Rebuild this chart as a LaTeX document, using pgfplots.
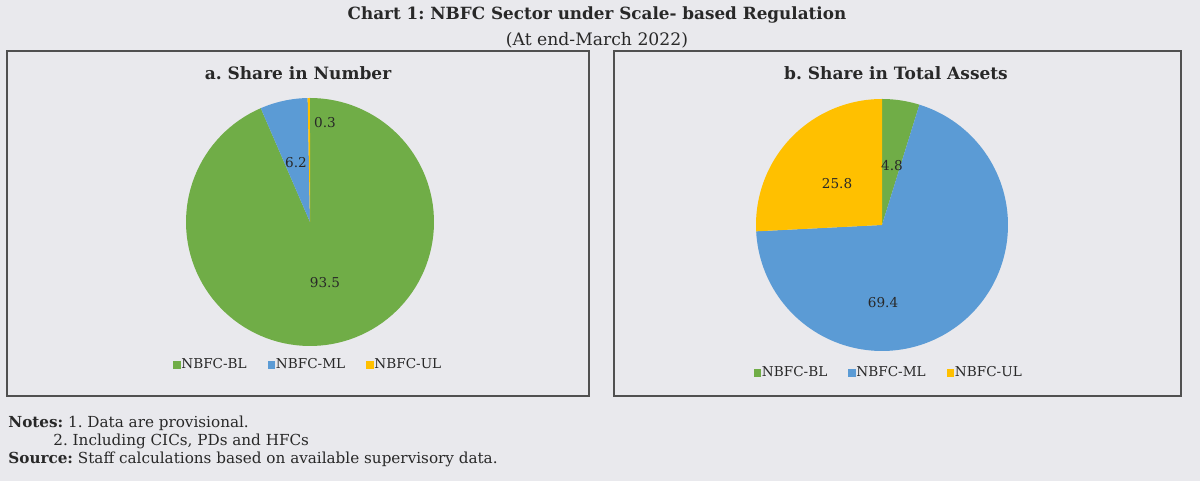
\documentclass[border=0pt]{standalone}
\usepackage{pgfplots}
\pgfplotsset{compat=1.18}
\usepackage{fontspec}
\setmainfont{DejaVu Serif}
\frenchspacing
\definecolor{bg}{RGB}{233,233,237}
\definecolor{bl}{RGB}{112,173,71}
\definecolor{ml}{RGB}{91,155,213}
\definecolor{ul}{RGB}{255,192,0}
\definecolor{frame}{RGB}{80,80,80}
\definecolor{txt}{RGB}{40,40,40}
% shares (per cent)
\def\aBL{93.5}\def\aML{6.2}\def\aUL{0.3}
\def\bBL{4.8}\def\bML{69.4}\def\bUL{25.8}
\tikzset{lbl/.style={font=\fontsize{6.8}{8}\selectfont, text=txt}}
\pgfplotsset{
  piestyle/.style={
    scale only axis, hide axis, axis equal image,
    xmin=-1,xmax=1,ymin=-1,ymax=1,
    clip=false,
    legend columns=3,
    legend style={draw=none, fill=none, font=\fontsize{6.8}{8}\selectfont\color{txt},
      inner sep=0pt, nodes={inner sep=0.4pt},
      /tikz/every even column/.append style={column sep=10pt}},
    legend image code/.code={\fill[##1] (0pt,-1.9pt) rectangle (3.8pt,1.9pt);},
    every axis plot/.append style={draw=none, samples=120, variable=\t},
  },
}
\begin{document}
\begin{tikzpicture}[x=0.5pt,y=0.5pt]
\fill[bg] (0,0) rectangle (1200,481);
\coordinate (ca) at (310,259);
\coordinate (cb) at (882,256);
% boxes (y measured upward: ytikz = 481 - ypx)
\draw[frame, line width=1pt] (7,430) rectangle (589,85);
\draw[frame, line width=1pt] (614,430) rectangle (1181,85);
\node[font=\fontsize{8.4}{10}\selectfont\bfseries, text=txt] at (597,466) {Chart 1: NBFC Sector under Scale- based Regulation};
\node[font=\fontsize{8.6}{10}\selectfont, text=txt] at (597,441) {(At end-March 2022)};
\node[font=\fontsize{8.5}{10}\selectfont\bfseries, text=txt] at (298,408) {a. Share in Number};
\node[font=\fontsize{8.5}{10}\selectfont\bfseries, text=txt] at (896,408) {b. Share in Total Assets};
\node[font=\fontsize{7.6}{9}\selectfont, text=txt, anchor=west, inner sep=0pt] at (8,58) {\textbf{Notes:} 1. Data are provisional.};
\node[font=\fontsize{7.6}{9}\selectfont, text=txt, anchor=west, inner sep=0pt] at (53,40) {2. Including CICs, PDs and HFCs};
\node[font=\fontsize{7.6}{9}\selectfont, text=txt, anchor=west, inner sep=0pt] at (8,22) {\textbf{Source:} Staff calculations based on available supervisory data.};

% chart a
\begin{axis}[piestyle, at={(ca)}, anchor=center, width=124pt, height=124pt,
  legend style={at={(axis cs:-0.02,-1.153)}, anchor=center}]
\addplot[fill=bl, domain={90}:{90-3.6*\aBL}] ({cos(\t)},{sin(\t)}) -- (axis cs:0,0) -- cycle;
\addplot[fill=ml, domain={90-3.6*\aBL}:{90-3.6*(\aBL+\aML)}] ({cos(\t)},{sin(\t)}) -- (axis cs:0,0) -- cycle;
\addplot[fill=ul, domain={90-3.6*(\aBL+\aML)}:{-270}] ({cos(\t)},{sin(\t)}) -- (axis cs:0,0) -- cycle;
\legend{NBFC-BL,NBFC-ML,NBFC-UL}
\node[lbl] at (axis cs:0.121,-0.492) {93.5};
\node[lbl] at (axis cs:-0.113,0.476) {6.2};
\node[lbl] at (axis cs:0.121,0.798) {0.3};
\end{axis}

% chart b
\begin{axis}[piestyle, at={(cb)}, anchor=center, width=126pt, height=126pt,
  legend style={at={(axis cs:0.048,-1.175)}, anchor=center}]
\addplot[fill=bl, domain={90}:{90-3.6*\bBL}] ({cos(\t)},{sin(\t)}) -- (axis cs:0,0) -- cycle;
\addplot[fill=ml, domain={90-3.6*\bBL}:{90-3.6*(\bBL+\bML)}] ({cos(\t)},{sin(\t)}) -- (axis cs:0,0) -- cycle;
\addplot[fill=ul, domain={90-3.6*(\bBL+\bML)}:{-270}] ({cos(\t)},{sin(\t)}) -- (axis cs:0,0) -- cycle;
\legend{NBFC-BL,NBFC-ML,NBFC-UL}
\node[lbl] at (axis cs:0.079,0.468) {4.8};
\node[lbl] at (axis cs:-0.357,0.325) {25.8};
\node[lbl] at (axis cs:0.008,-0.619) {69.4};
\end{axis}
\pgfresetboundingbox
\path[use as bounding box] (0,0) rectangle (1200,481);
\end{tikzpicture}
\end{document}
